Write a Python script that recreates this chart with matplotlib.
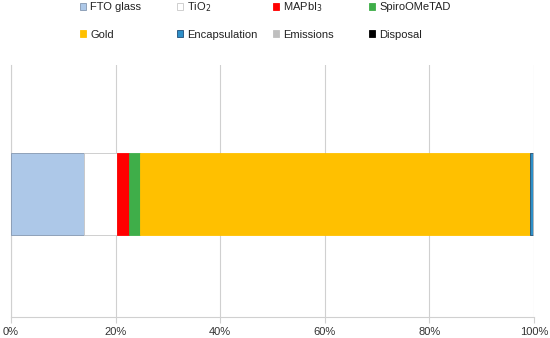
import matplotlib.pyplot as plt
import matplotlib.patches as mpatches
from matplotlib.ticker import PercentFormatter

plt.rcParams['font.family'] = ['Liberation Sans', 'DejaVu Sans']

# share of each stage (%)
stages = ['FTO glass', 'TiO$_2$', 'MAPbI$_3$', 'SpiroOMeTAD',
          'Gold', 'Encapsulation', 'Emissions', 'Disposal']
shares = [14.0, 6.2, 2.4, 2.0, 74.7, 0.6, 0.05, 0.05]
colors = ['#adc8e8', '#ffffff', '#ff0000', '#3fae49',
          '#ffc000', '#2e8fc8', '#bfbfbf', '#000000']
edges = ['#8497b0', '#c8c8c8', '#ff0000', '#3fae49',
         '#ffc000', '#1f4e79', '#bfbfbf', '#000000']

fig = plt.figure(figsize=(5.5, 3.38), dpi=100)
ax = fig.add_axes([11 / 550, 21 / 338, 523 / 550, 252 / 338])

left = 0
for s, c, e in zip(shares, colors, edges):
    ax.barh(0, s, left=left, height=0.325, color=c, edgecolor=e,
            linewidth=0.6, zorder=3)
    left += s

ax.set_xlim(0, 100)
ax.set_ylim(-0.488, 0.512)
ax.set_xticks(range(0, 101, 20))
ax.xaxis.set_major_formatter(PercentFormatter(decimals=0))
ax.set_yticks([])
ax.grid(axis='x', color='#d0d0d0', linewidth=0.8, zorder=0)
for sp in ['top', 'right']:
    ax.spines[sp].set_visible(False)
for sp in ['left', 'bottom']:
    ax.spines[sp].set_color('#d0d0d0')
    ax.spines[sp].set_linewidth(0.8)
ax.tick_params(axis='x', length=4, color='#d0d0d0', labelsize=8,
               labelcolor='#333333', pad=3)

# legend: two rows of four, one small legend per entry so rows line up
col_x = [73, 170, 266, 362]
row_y = [7.5, 34.5]
for k in range(8):
    h = mpatches.Patch(facecolor=colors[k], edgecolor=edges[k],
                       linewidth=0.6, label=stages[k])
    fig.legend(handles=[h], loc='center left',
               bbox_to_anchor=(col_x[k % 4] / 550, 1 - row_y[k // 4] / 338),
               frameon=False, fontsize=8, handlelength=0.6, handleheight=0.6,
               handletextpad=0.35, borderpad=0.1, labelcolor='#222222')

fig.savefig('out.png', dpi=100)
